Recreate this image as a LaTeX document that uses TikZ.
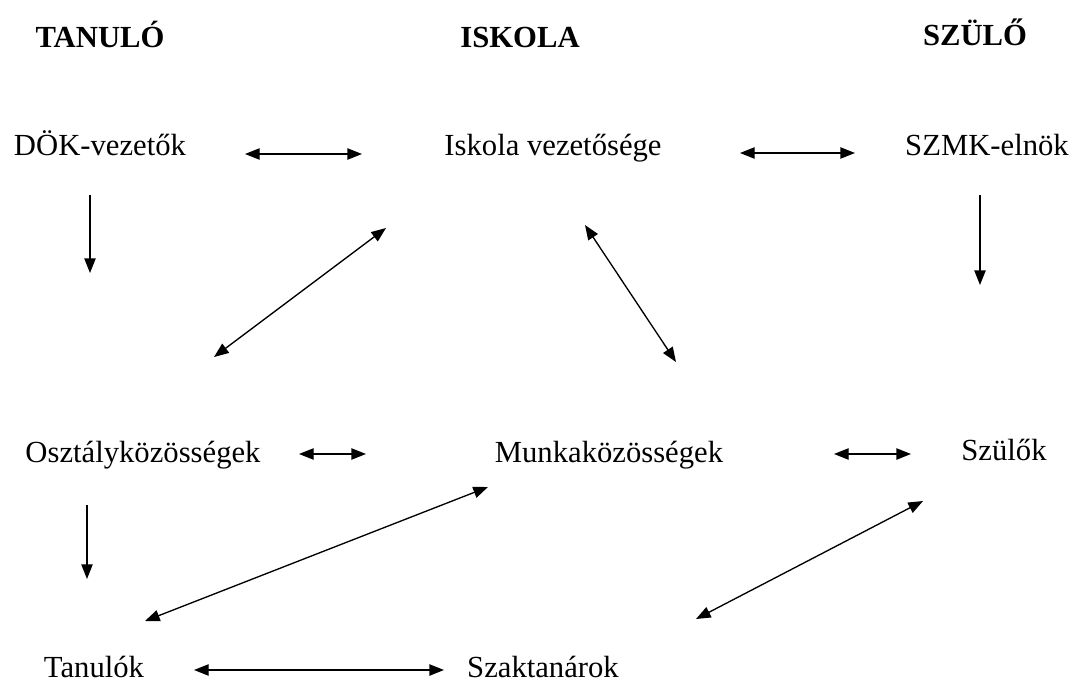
\documentclass[tikz,border=0pt]{standalone}
\usepackage{fontspec}
\setmainfont{Liberation Serif}
\usetikzlibrary{arrows.meta}
\begin{document}
\begin{tikzpicture}[x=0.75pt,y=-0.75pt,
  lbl/.style={inner sep=0pt,anchor=base,font=\fontsize{23}{27}\selectfont},
  head/.style={inner sep=0pt,anchor=base,font=\fontsize{23}{27}\selectfont\bfseries},
  tip/.tip={Triangle[length=11pt,width=8.5pt]},
  conn/.style={line width=1pt,-tip},
  biconn/.style={line width=1pt,tip-tip}]
\useasboundingbox (0,0) rectangle (1077,683);
% headings
\node[head] (hT) at (100,47) {TANULÓ};
\node[head] (hI) at (520,47) {ISKOLA};
\node[head] (hS) at (975,45) {SZÜLŐ};
% labels
\node[lbl] (dok) at (100,155) {DÖK-vezetők};
\node[lbl] (isk) at (553,155) {Iskola vezetősége};
\node[lbl] (szmk) at (987,155) {SZMK-elnök};
\node[lbl] (oszt) at (143,462) {Osztályközösségek};
\node[lbl] (munka) at (609,462) {Munkaközösségek};
\node[lbl] (szul) at (1004,460) {Szülők};
\node[lbl] (tan) at (94,677) {Tanulók};
\node[lbl] (szak) at (543,677) {Szaktanárok};
% connector end points
\coordinate (a1) at (245,154); \coordinate (a2) at (362,154);
\coordinate (b1) at (740,153); \coordinate (b2) at (855,153);
\coordinate (c1) at (90,195);  \coordinate (c2) at (90,273);
\coordinate (d1) at (980,195); \coordinate (d2) at (980,285);
\coordinate (e1) at (386,228); \coordinate (e2) at (214,357);
\coordinate (f1) at (585,225); \coordinate (f2) at (676,362);
\coordinate (g1) at (299,454); \coordinate (g2) at (366,454);
\coordinate (h1) at (834,454); \coordinate (h2) at (911,454);
\coordinate (i1) at (87,505);  \coordinate (i2) at (87,579);
\coordinate (j1) at (488,487); \coordinate (j2) at (145,621);
\coordinate (k1) at (923,501); \coordinate (k2) at (696,619);
\coordinate (l1) at (194,670); \coordinate (l2) at (444,670);
% connectors
\draw[biconn] (a1) -- (a2);
\draw[biconn] (b1) -- (b2);
\draw[conn] (c1) -- (c2);
\draw[conn] (d1) -- (d2);
\draw[biconn] (e1) -- (e2);
\draw[biconn] (f1) -- (f2);
\draw[biconn] (g1) -- (g2);
\draw[biconn] (h1) -- (h2);
\draw[conn] (i1) -- (i2);
\draw[biconn] (j1) -- (j2);
\draw[biconn] (k1) -- (k2);
\draw[biconn] (l1) -- (l2);
\end{tikzpicture}
\end{document}
